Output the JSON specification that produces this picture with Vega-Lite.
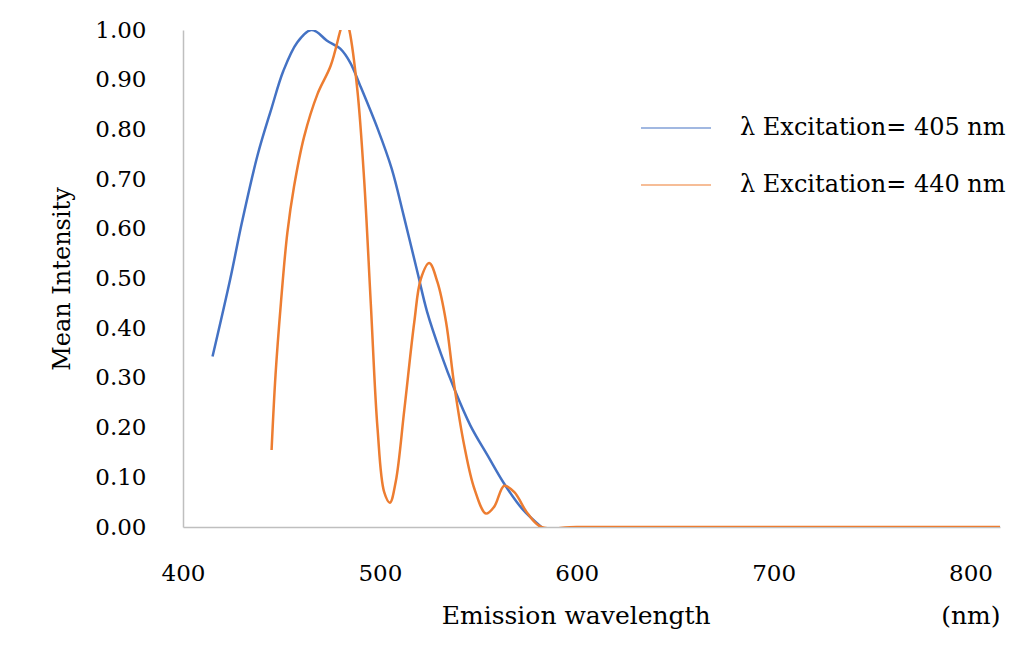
{
  "$schema": "https://vega.github.io/schema/vega-lite/v6.json",
  "width": 817,
  "height": 497,
  "autosize": {"type": "none"},
  "padding": {"left": 183, "top": 30, "right": 24, "bottom": 121},
  "background": "white",
  "config": {
    "view": {"stroke": null},
    "font": "DejaVu Serif",
    "axis": {"grid": false, "ticks": false, "domainColor": "#bfbfbf", "domainWidth": 1.5, "labelColor": "#000000", "titleColor": "#000000", "labelFont": "DejaVu Serif", "titleFont": "DejaVu Serif", "labelFontSize": 23, "titleFontSize": 25, "titleFontWeight": "normal", "labelFlush": false}
  },
  "data": {
    "values": [
      {"nm": 415, "v": 0.343, "series": "λ Excitation= 405 nm"},
      {"nm": 424, "v": 0.499, "series": "λ Excitation= 405 nm"},
      {"nm": 430, "v": 0.614, "series": "λ Excitation= 405 nm"},
      {"nm": 438, "v": 0.75, "series": "λ Excitation= 405 nm"},
      {"nm": 445, "v": 0.843, "series": "λ Excitation= 405 nm"},
      {"nm": 451, "v": 0.918, "series": "λ Excitation= 405 nm"},
      {"nm": 458, "v": 0.975, "series": "λ Excitation= 405 nm"},
      {"nm": 465, "v": 1.0, "series": "λ Excitation= 405 nm"},
      {"nm": 468, "v": 0.996, "series": "λ Excitation= 405 nm"},
      {"nm": 473, "v": 0.979, "series": "λ Excitation= 405 nm"},
      {"nm": 480, "v": 0.962, "series": "λ Excitation= 405 nm"},
      {"nm": 485, "v": 0.934, "series": "λ Excitation= 405 nm"},
      {"nm": 490, "v": 0.888, "series": "λ Excitation= 405 nm"},
      {"nm": 499, "v": 0.8, "series": "λ Excitation= 405 nm"},
      {"nm": 506, "v": 0.721, "series": "λ Excitation= 405 nm"},
      {"nm": 512, "v": 0.628, "series": "λ Excitation= 405 nm"},
      {"nm": 519, "v": 0.514, "series": "λ Excitation= 405 nm"},
      {"nm": 524, "v": 0.433, "series": "λ Excitation= 405 nm"},
      {"nm": 531, "v": 0.349, "series": "λ Excitation= 405 nm"},
      {"nm": 538, "v": 0.276, "series": "λ Excitation= 405 nm"},
      {"nm": 546, "v": 0.204, "series": "λ Excitation= 405 nm"},
      {"nm": 555, "v": 0.142, "series": "λ Excitation= 405 nm"},
      {"nm": 563, "v": 0.088, "series": "λ Excitation= 405 nm"},
      {"nm": 572, "v": 0.038, "series": "λ Excitation= 405 nm"},
      {"nm": 582, "v": 0.0, "series": "λ Excitation= 405 nm"},
      {"nm": 445, "v": 0.155, "series": "λ Excitation= 440 nm"},
      {"nm": 447, "v": 0.306, "series": "λ Excitation= 440 nm"},
      {"nm": 449.7, "v": 0.449, "series": "λ Excitation= 440 nm"},
      {"nm": 453, "v": 0.592, "series": "λ Excitation= 440 nm"},
      {"nm": 456.4, "v": 0.685, "series": "λ Excitation= 440 nm"},
      {"nm": 461.5, "v": 0.785, "series": "λ Excitation= 440 nm"},
      {"nm": 468.3, "v": 0.871, "series": "λ Excitation= 440 nm"},
      {"nm": 475, "v": 0.928, "series": "λ Excitation= 440 nm"},
      {"nm": 480, "v": 1.0, "series": "λ Excitation= 440 nm"},
      {"nm": 482.3, "v": 1.03, "series": "λ Excitation= 440 nm"},
      {"nm": 484.5, "v": 1.0, "series": "λ Excitation= 440 nm"},
      {"nm": 488.6, "v": 0.878, "series": "λ Excitation= 440 nm"},
      {"nm": 492, "v": 0.7, "series": "λ Excitation= 440 nm"},
      {"nm": 495.4, "v": 0.449, "series": "λ Excitation= 440 nm"},
      {"nm": 498.8, "v": 0.199, "series": "λ Excitation= 440 nm"},
      {"nm": 502.2, "v": 0.07, "series": "λ Excitation= 440 nm"},
      {"nm": 505.1, "v": 0.049, "series": "λ Excitation= 440 nm"},
      {"nm": 508.1, "v": 0.092, "series": "λ Excitation= 440 nm"},
      {"nm": 512.4, "v": 0.235, "series": "λ Excitation= 440 nm"},
      {"nm": 517.5, "v": 0.413, "series": "λ Excitation= 440 nm"},
      {"nm": 520.8, "v": 0.499, "series": "λ Excitation= 440 nm"},
      {"nm": 525.1, "v": 0.531, "series": "λ Excitation= 440 nm"},
      {"nm": 529.3, "v": 0.492, "series": "λ Excitation= 440 nm"},
      {"nm": 533.6, "v": 0.413, "series": "λ Excitation= 440 nm"},
      {"nm": 537.8, "v": 0.285, "series": "λ Excitation= 440 nm"},
      {"nm": 542.9, "v": 0.163, "series": "λ Excitation= 440 nm"},
      {"nm": 548, "v": 0.077, "series": "λ Excitation= 440 nm"},
      {"nm": 553.9, "v": 0.027, "series": "λ Excitation= 440 nm"},
      {"nm": 558.1, "v": 0.041, "series": "λ Excitation= 440 nm"},
      {"nm": 563.2, "v": 0.083, "series": "λ Excitation= 440 nm"},
      {"nm": 568.3, "v": 0.07, "series": "λ Excitation= 440 nm"},
      {"nm": 575.1, "v": 0.027, "series": "λ Excitation= 440 nm"},
      {"nm": 582, "v": 0.0, "series": "λ Excitation= 440 nm"},
      {"nm": 600, "v": 0.0, "series": "λ Excitation= 440 nm"},
      {"nm": 700, "v": 0.0, "series": "λ Excitation= 440 nm"},
      {"nm": 815, "v": 0.0, "series": "λ Excitation= 440 nm"}
    ]
  },
  "mark": {"type": "line", "strokeWidth": 2.5, "interpolate": "catmull-rom", "clip": true},
  "encoding": {
    "x": {
      "field": "nm", "type": "quantitative",
      "scale": {"domain": [400, 815], "nice": false, "zero": false},
      "axis": {"values": [400, 500, 600, 700, 800], "labelPadding": 35, "titlePadding": 18,
        "title": "Emission wavelength\u00a0\u00a0\u00a0\u00a0\u00a0\u00a0\u00a0\u00a0\u00a0\u00a0\u00a0\u00a0\u00a0\u00a0\u00a0\u00a0\u00a0\u00a0\u00a0\u00a0\u00a0\u00a0\u00a0\u00a0\u00a0\u00a0\u00a0\u00a0\u00a0(nm)", "titleAnchor": "end"}
    },
    "y": {
      "field": "v", "type": "quantitative",
      "scale": {"domain": [0, 1], "nice": false},
      "axis": {"values": [0, 0.1, 0.2, 0.3, 0.4, 0.5, 0.6, 0.7, 0.8, 0.9, 1.0], "format": ".2f", "labelPadding": 37, "titlePadding": 20, "titleFontSize": 24, "title": "Mean Intensity"}
    },
    "color": {
      "field": "series", "type": "nominal",
      "scale": {"range": ["#4472C4", "#ED7D31"]},
      "legend": {
        "title": null, "orient": "none", "legendX": 457, "legendY": 62,
        "symbolType": "stroke", "symbolSize": 4900, "symbolStrokeWidth": 1.2,
        "labelFontSize": 24, "labelFont": "DejaVu Serif", "labelColor": "#000000", "labelLimit": 0,
        "labelOffset": 28, "rowPadding": 9
      }
    }
  }
}
